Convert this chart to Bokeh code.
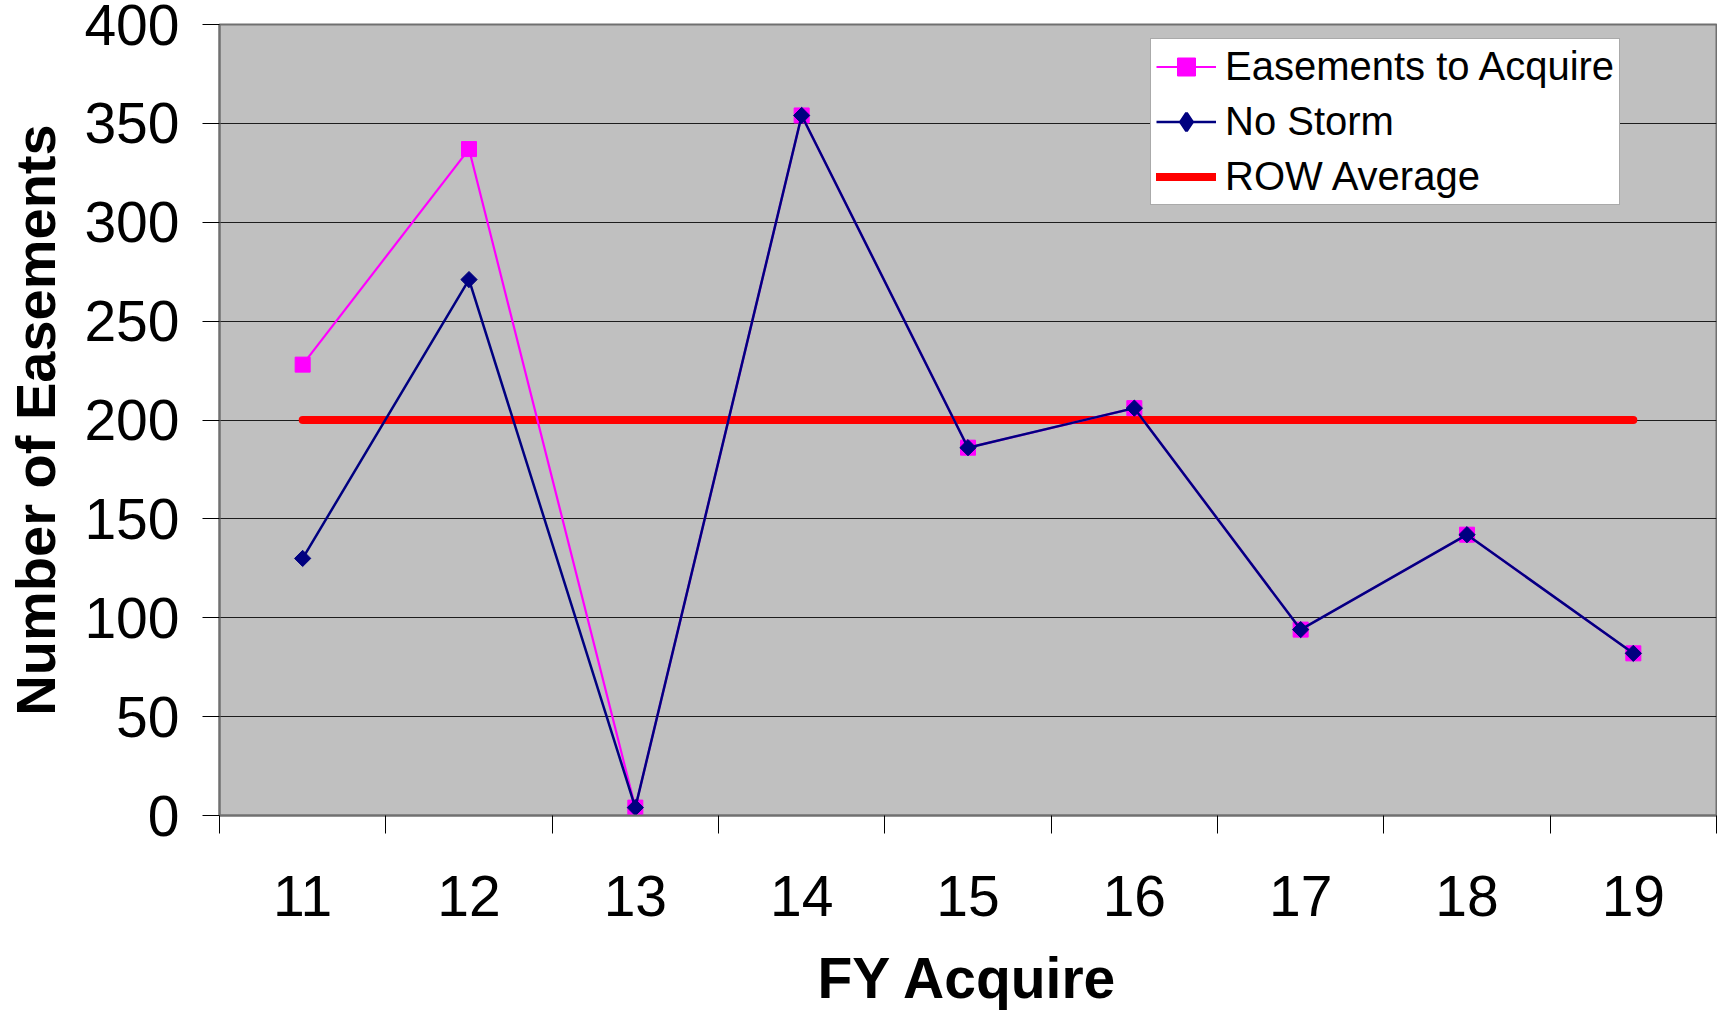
from bokeh.plotting import figure
from bokeh.models import Range1d, FixedTicker, Legend, LegendItem
from bokeh.embed import file_html
from bokeh.resources import INLINE

years = [11, 12, 13, 14, 15, 16, 17, 18, 19]
tick_labels = ["11", "12", "13", "14", "15", "16", "17", "18", "19"]
easements_to_acquire = [228, 337, 4, 354, 186, 206, 94, 142, 82]
no_storm = [130, 271, 4, 354, 186, 206, 94, 142, 82]
row_average_x = [11, 19]
row_average_y = [200, 200]
y_ticks = [0, 50, 100, 150, 200, 250, 300, 350, 400]
x_title = "FY Acquire"
y_title = "Number of Easements"

FONT = "Liberation Sans"

p = figure(width=1717, height=1013, output_backend="svg", toolbar_location=None,
           x_range=Range1d(10.5, 19.5), y_range=Range1d(0, 400),
           min_border_left=219, min_border_right=1, min_border_top=24, min_border_bottom=198)
p.background_fill_color = "#C0C0C0"
p.border_fill_color = "white"
p.outline_line_color = "#707070"
p.outline_line_width = 2

# grid
p.xgrid.visible = False
p.ygrid.ticker = FixedTicker(ticks=y_ticks)
p.ygrid.grid_line_color = "#000000"
p.ygrid.grid_line_width = 1
p.ygrid.grid_line_alpha = 0.85

# x axis
xa = p.xaxis[0]
xa.ticker = FixedTicker(ticks=years, minor_ticks=[y - 0.5 for y in years] + [19.5])
xa.major_label_overrides = {y: t for y, t in zip(years, tick_labels)}
xa.major_tick_out = 0
xa.major_tick_in = 0
xa.minor_tick_out = 18
xa.minor_tick_in = 0
xa.minor_tick_line_color = "black"
xa.minor_tick_line_width = 1
xa.axis_line_color = "#707070"
xa.axis_line_width = 2
xa.major_label_text_font = FONT
xa.major_label_text_font_size = "57px"
xa.major_label_text_color = "black"
xa.major_label_standoff = 42
xa.axis_label = x_title
xa.axis_label_text_font = FONT
xa.axis_label_text_font_size = "57px"
xa.axis_label_text_font_style = "bold"
xa.axis_label_text_color = "black"
xa.axis_label_standoff = 27

# y axis
ya = p.yaxis[0]
ya.ticker = FixedTicker(ticks=y_ticks)
ya.major_tick_out = 17
ya.major_tick_in = 0
ya.minor_tick_out = 0
ya.minor_tick_in = 0
ya.major_tick_line_color = "black"
ya.axis_line_color = "#707070"
ya.axis_line_width = 2
ya.major_label_text_font = FONT
ya.major_label_text_font_size = "57px"
ya.major_label_text_color = "black"
ya.major_label_standoff = 23
ya.axis_label = y_title
ya.axis_label_text_font = FONT
ya.axis_label_text_font_size = "56px"
ya.axis_label_text_font_style = "bold"
ya.axis_label_text_color = "black"
ya.axis_label_standoff = 14

# series
r_row = p.line(row_average_x, row_average_y, line_color="#FF0000", line_width=8, line_cap="round")
r_e_line = p.line(years, easements_to_acquire, line_color="#FF00FF", line_width=2.2)
r_e_pts = p.scatter(years, easements_to_acquire, marker="square", size=15,
                    fill_color="#FF00FF", line_color="#FF00FF")
r_n_line = p.line(years, no_storm, line_color="#000080", line_width=2.5)
r_n_pts = p.scatter(years, no_storm, marker="square", angle=0.7854, size=11.5,
                    fill_color="#000080", line_color="#000080")
# legend-only proxy for the diamond key (draws nothing in the plot)
r_n_key = p.scatter([float("nan")], [float("nan")], marker="diamond", size=12, line_width=3,
                    fill_color="#000080", line_color="#000080")

legend = Legend(items=[
    LegendItem(label="Easements to Acquire", renderers=[r_e_line, r_e_pts]),
    LegendItem(label="No Storm", renderers=[r_n_line, r_n_key]),
    LegendItem(label="ROW Average", renderers=[r_row]),
], location=(931, 610))
legend.label_text_font = FONT
legend.label_text_font_size = "40px"
legend.label_text_color = "black"
legend.label_height = 45
legend.glyph_height = 45
legend.glyph_width = 60
legend.spacing = 10
legend.padding = 5
legend.margin = 0
legend.label_standoff = 9
legend.border_line_color = "#555555"
legend.border_line_width = 1.5
legend.background_fill_color = "white"
legend.background_fill_alpha = 1
p.add_layout(legend, "center")

open("out.html", "w").write(file_html(p, INLINE))
